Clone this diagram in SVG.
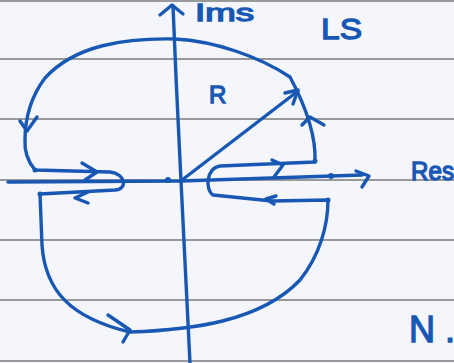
<svg xmlns="http://www.w3.org/2000/svg" width="454" height="363" viewBox="0 0 454 363">
<style>
.ink{fill:none;stroke:#1858b4;stroke-width:3.4;stroke-linecap:round;stroke-linejoin:round}
.rule{stroke:#7a7a7a;stroke-width:1.3}
.lbl{fill:#1858b4;font-family:"Liberation Sans",Arial,sans-serif;stroke:#1858b4;stroke-width:1.3}
.dot{fill:#1858b4}
</style>
<rect width="454" height="363" fill="#f4f6fb"/>
<g id="paper">
<line class="rule" x1="0" y1="1" x2="454" y2="1"/>
<line class="rule" x1="0" y1="59" x2="454" y2="59"/>
<line class="rule" x1="0" y1="119" x2="454" y2="119"/>
<line class="rule" x1="0" y1="180" x2="454" y2="180"/>
<line class="rule" x1="0" y1="240" x2="454" y2="240"/>
<line class="rule" x1="0" y1="300" x2="454" y2="300"/>
<line class="rule" x1="0" y1="361" x2="454" y2="361"/>
</g>
<g id="axes">
<path class="ink" d="M173,6 C175,60 179,140 181,181 C184,250 187,310 190,363"/>
<path class="ink" d="M160,15 L172,5 L183,14"/>
<path class="ink" d="M8,182 L181,181 L362,175"/>
<path class="ink" d="M356,171 L369,176 L362,187"/>
<circle class="dot" cx="168" cy="180" r="3"/>
<circle class="dot" cx="331" cy="176" r="3"/>
</g>
<g id="radius">
<path class="ink" d="M182,180 L298,91"/>
<path class="ink" d="M285,93 L298,90 L293,104"/>
</g>
<g id="contour">
<path class="ink" d="M315,161 C316,135 305,105 290,77 C260,57 215,41 175,39 C125,38 75,45 45,78 C30,98 25,120 25,140 C24,155 30,164 35,170 L110,172 C126,174 128,189 115,190 L40,194 L42,245 C45,290 70,318 130,332 C190,330 260,322 300,280 C320,255 328,225 328,200 L272,201 L213,195 C205,190 206,168 220,166 L315,162"/>
<circle class="dot" cx="315" cy="161" r="2.5"/>
<circle class="dot" cx="328" cy="200" r="2.5"/>
<circle class="dot" cx="40" cy="194" r="2.5"/>
<circle class="dot" cx="35" cy="170" r="2.5"/>
<path class="ink" d="M20,121 L27,131 L37,117"/>
<path class="ink" d="M302,125 L310,117 L324,125"/>
<path class="ink" d="M82,163 L97,172 L85,180"/>
<path class="ink" d="M88,192 L75,198 L88,203"/>
<path class="ink" d="M108,315 L130,330 L123,342"/>
<path class="ink" d="M272,160 L283,165 L274,177"/>
<path class="ink" d="M276,196 L266,199 L274,204"/>
</g>
<g id="labels">
<text class="lbl" x="195" y="21" font-size="24" textLength="59" lengthAdjust="spacingAndGlyphs">Ims</text>
<text class="lbl" x="321" y="39" font-size="30" textLength="41" lengthAdjust="spacingAndGlyphs">LS</text>
<text class="lbl" x="209" y="103" font-size="24">R</text>
<text class="lbl" x="411" y="180" font-size="25" textLength="43" lengthAdjust="spacingAndGlyphs">Res</text>
<text class="lbl" x="409" y="342" font-size="36" textLength="46" lengthAdjust="spacing">N.</text>
</g>
</svg>
